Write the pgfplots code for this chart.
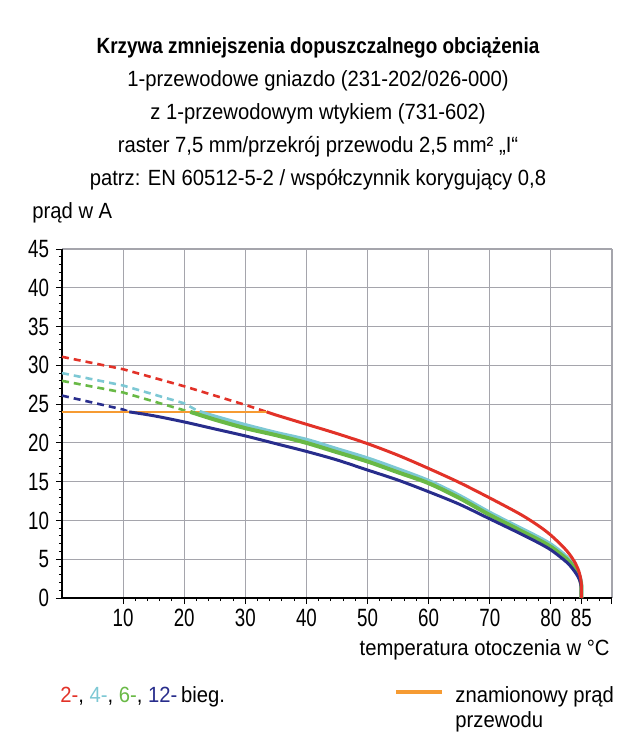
\documentclass[border=0pt]{standalone}
\usepackage{pgfplots}
\pgfplotsset{compat=1.18}
\usepackage{fontspec}
\setmainfont{Liberation Sans}[FakeStretch=0.92]
\newfontfamily\boldtitle{Liberation Sans}[FakeStretch=0.86]
\newfontfamily\tickfont{Liberation Sans}[FakeStretch=0.75]
\definecolor{cred}{RGB}{226,50,40}
\definecolor{ccyan}{RGB}{125,200,212}
\definecolor{cgreen}{RGB}{105,185,70}
\definecolor{cblue}{RGB}{40,45,140}
\definecolor{corange}{RGB}{246,155,50}
\definecolor{cgrid}{RGB}{165,165,172}
\begin{document}
\begin{tikzpicture}
\path[use as bounding box] (-31pt,-74pt) rectangle (287pt,299pt);
\begin{axis}[
  at={(0pt,0pt)}, anchor=origin,
  scale only axis, width=275pt, height=174.5pt,
  xmin=0, xmax=90, ymin=0, ymax=45,
  xtick={10,20,30,40,50,60,70,80,90},
  xticklabels={10,20,30,40,50,60,70,80,{}},
  extra x ticks={85}, extra x tick style={grid=none},
  ytick={0,5,...,45},
  minor x tick num=4, minor y tick num=4,
  grid=major, major grid style={cgrid, line width=0.6pt},
  axis x line=bottom, axis y line=left,
  axis line style={-, black, line width=0.6pt},
  tick style={black, line width=0.5pt},
  tick align=outside,
  major tick length=3pt, minor tick length=1.5pt,
  /pgf/number format/assume math mode=true,
  ticklabel style={font=\fontsize{12.5}{13}\tickfont},
  xticklabel style={yshift=1pt},
  clip=false,
]
% dashed extensions
\addplot[cred, dash pattern=on 3.5pt off 2.5pt, line width=1.3pt] coordinates {(0,31.1) (10,29.5) (20,27.3) (30,24.9) (33.5,24.0)};
\addplot[ccyan, dash pattern=on 3.5pt off 2.5pt, line width=1.3pt] coordinates {(0,29.0) (10,27.4) (20,25.1) (22.5,24.0)};
\addplot[cgreen, dash pattern=on 3.5pt off 2.5pt, line width=1.3pt] coordinates {(0,28.0) (10,26.5) (20,24.2) (21,24.0)};
\addplot[cblue, dash pattern=on 3.5pt off 2.5pt, line width=1.3pt] coordinates {(0,26.1) (5,25.2) (10,24.3) (11,24.0)};
% rated current
\addplot[corange, line width=1.2pt] coordinates {(0,24) (33.5,24)};
% solid curves
\addplot[ccyan, line width=2pt, smooth, tension=0.5] coordinates {(22.5,24.0) (25,23.4) (30,22.3) (35,21.3) (40,20.4) (45,19.2) (50,18.0) (55,16.6) (60,15.1) (65,13.2) (70,11.0) (75,9.0) (78,7.8) (80,6.9) (82,5.7) (83,4.9) (84,3.9) (84.6,3.0) (84.9,2.2) (85,1.4) (85,0)};
\addplot[cgreen, line width=2pt, smooth, tension=0.5] coordinates {(21,24.0) (25,23.0) (30,21.9) (35,21.0) (40,20.0) (45,18.8) (50,17.6) (55,16.2) (60,14.8) (65,12.9) (70,10.7) (75,8.7) (78,7.5) (80,6.6) (82,5.4) (83,4.7) (84,3.7) (84.6,2.8) (84.9,2.0) (85,1.3) (85,0)};
\addplot[cblue, line width=1.5pt, smooth, tension=0.5] coordinates {(11,24.0) (15,23.5) (20,22.7) (25,21.8) (30,20.9) (35,19.9) (40,18.9) (45,17.8) (50,16.5) (55,15.2) (60,13.7) (65,12.1) (70,10.2) (75,8.3) (78,7.1) (80,6.2) (82,5.0) (83,4.3) (84,3.3) (84.6,2.5) (84.9,1.8) (85,1.2) (85,0)};
\addplot[cred, line width=1.5pt, smooth, tension=0.5] coordinates {(33.5,24.0) (35,23.6) (40,22.4) (45,21.2) (50,19.9) (55,18.4) (60,16.7) (65,14.9) (70,12.9) (75,10.8) (78,9.3) (80,8.1) (82,6.6) (83,5.7) (84,4.5) (84.6,3.4) (84.9,2.4) (85,1.5) (85,0)};
\end{axis}
% titles
\begin{scope}[every node/.style={font=\fontsize{11}{13}\selectfont, inner sep=0pt, anchor=base}]
\node at (128pt,272.5pt) {\boldtitle\bfseries Krzywa zmniejszenia dopuszczalnego obciążenia};
\node at (128pt,256pt) {1-przewodowe gniazdo (231-202/026-000)};
\node at (128pt,239.5pt) {z 1-przewodowym wtykiem (731-602)};
\node at (128pt,223pt) {raster 7,5 mm/przekrój przewodu 2,5 mm² „I“};
\node at (128pt,206.5pt) {patrz: EN 60512-5-2 / współczynnik korygujący 0,8};
\node[anchor=base west] at (-15pt,190pt) {prąd w A};
\node[anchor=base east] at (274pt,-28.5pt) {temperatura otoczenia w °C};
\node[anchor=base west] at (-1pt,-52pt) {\textcolor{cred}{2-}, \textcolor{ccyan}{4-}, \textcolor{cgreen}{6-}, \textcolor{cblue}{12-}\,bieg.};
\node[anchor=base west] at (196.5pt,-52pt) {znamionowy prąd};
\node[anchor=base west] at (196.5pt,-64.5pt) {przewodu};
\end{scope}
\draw[corange, line width=2pt] (167pt,-47pt) -- (190pt,-47pt);
\end{tikzpicture}
\end{document}
